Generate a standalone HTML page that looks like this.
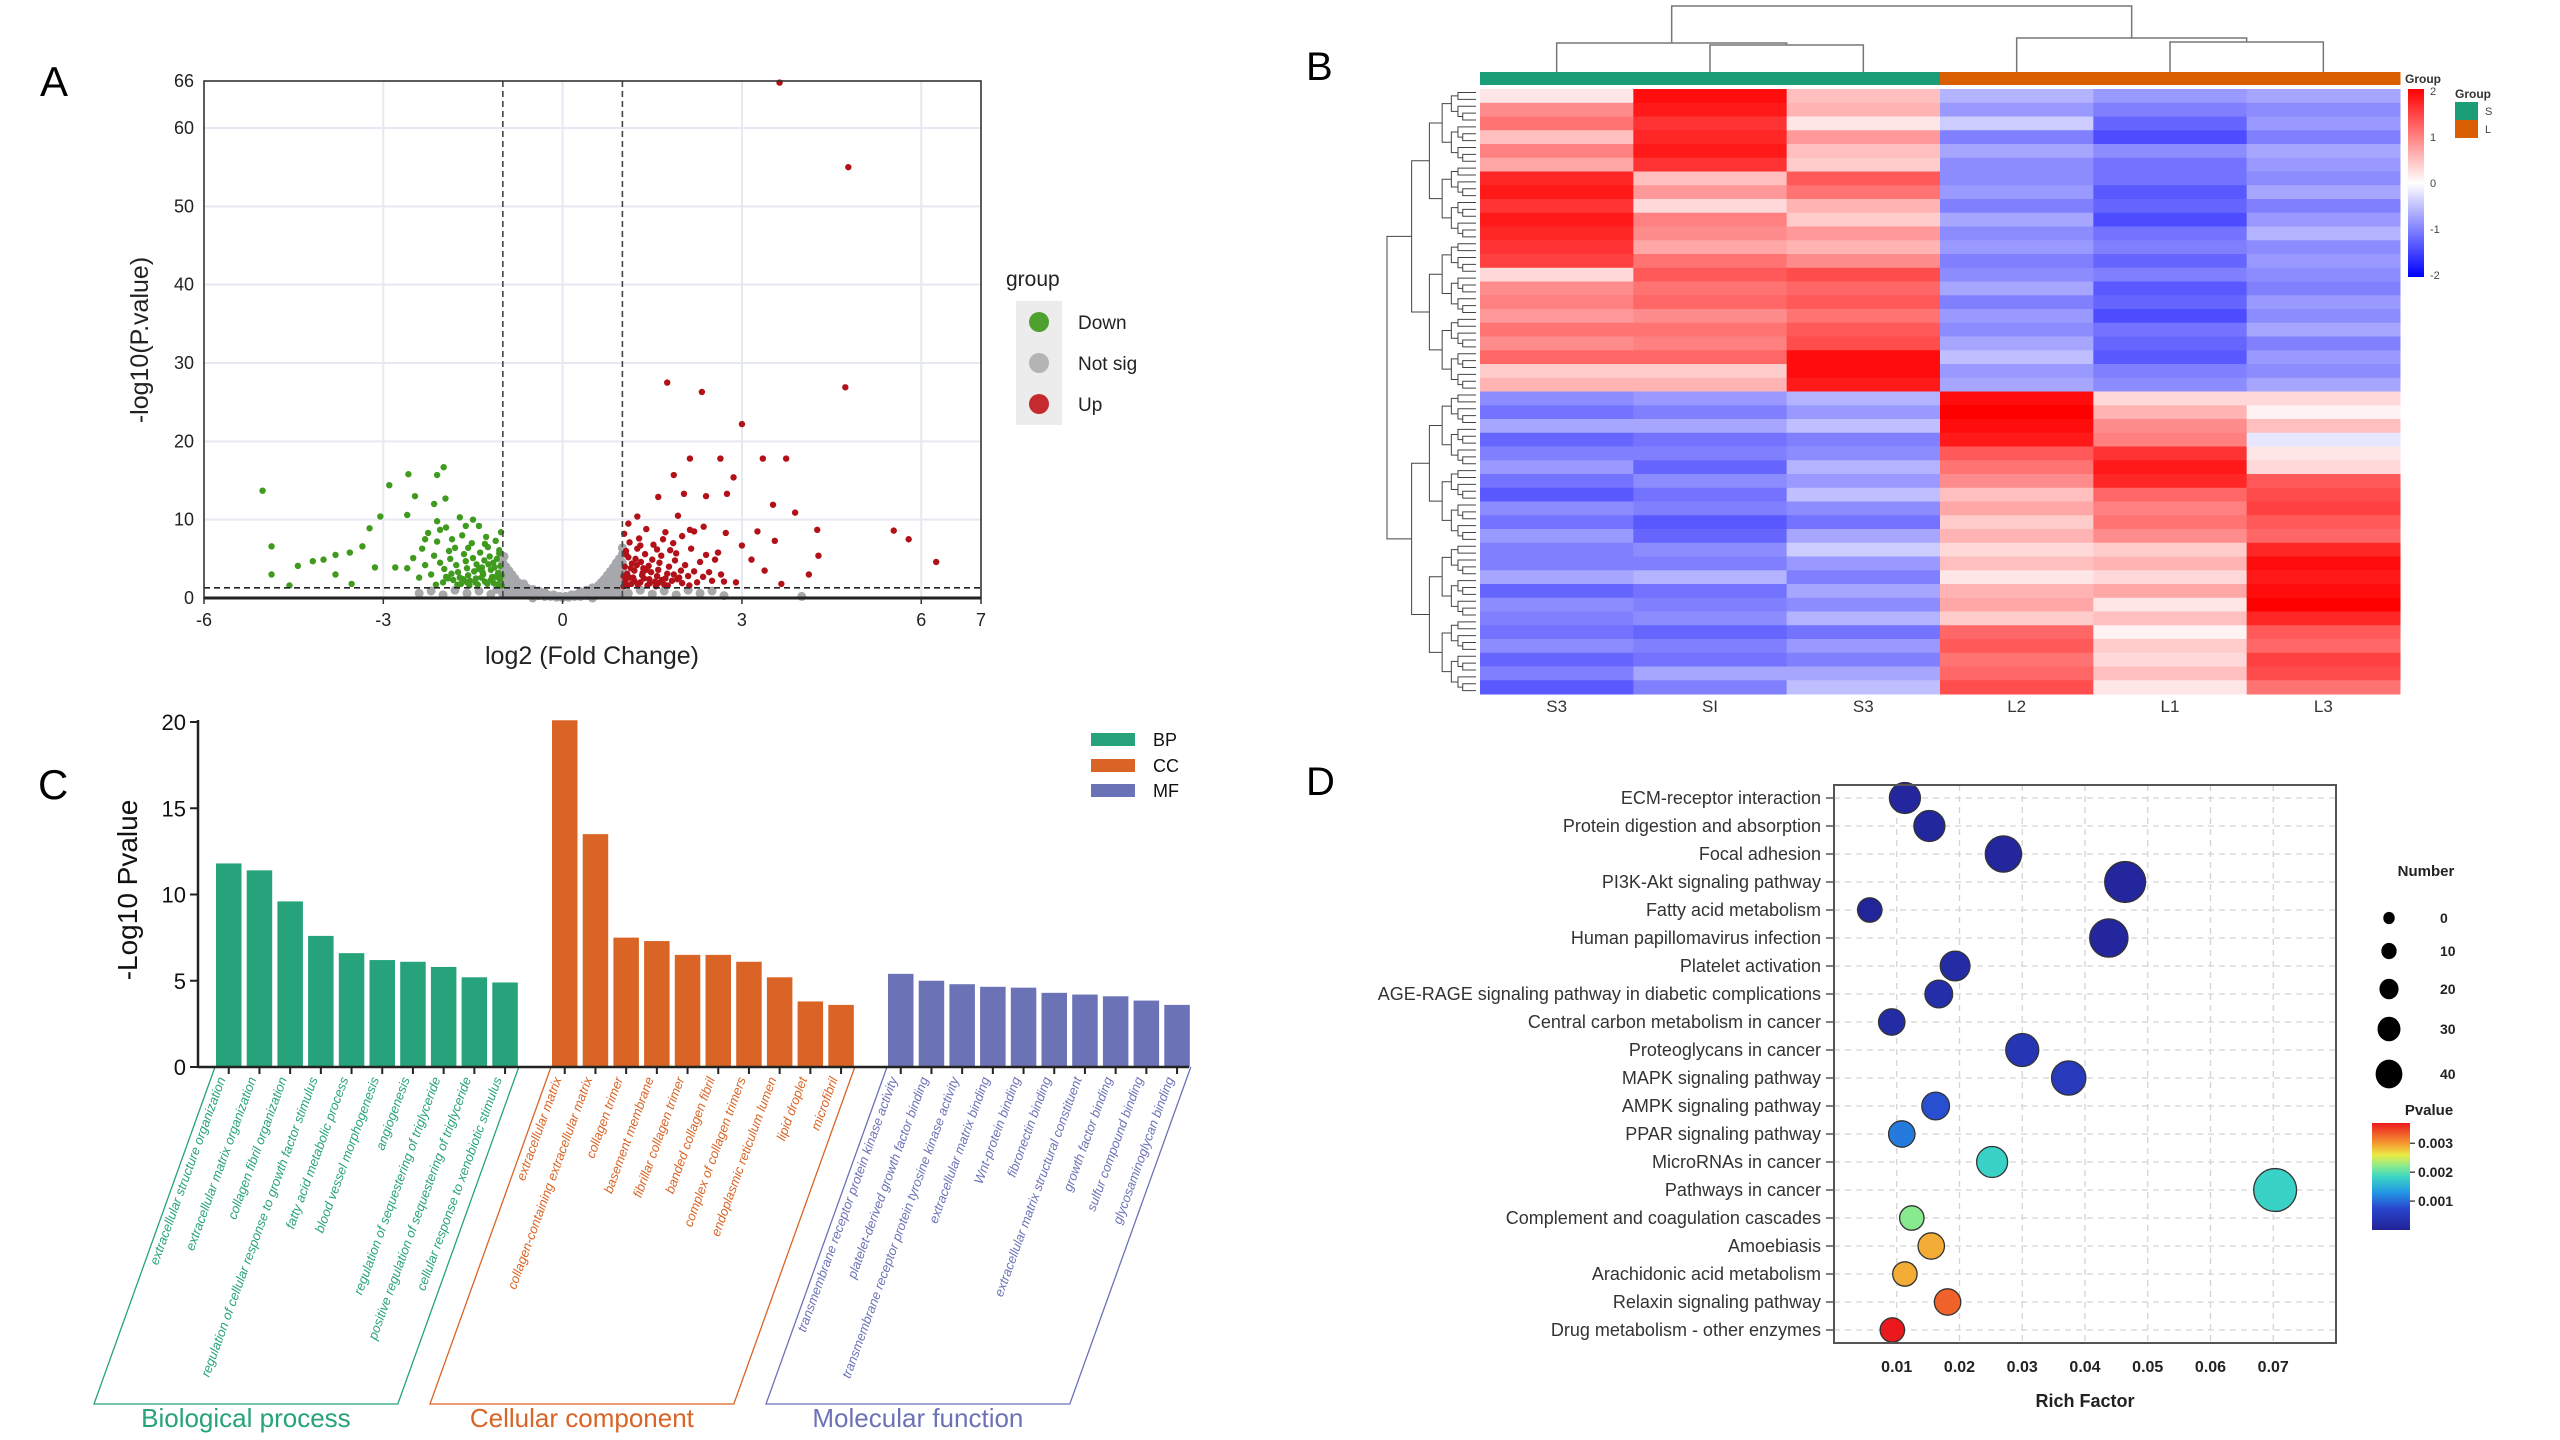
<!DOCTYPE html>
<html><head><meta charset="utf-8"><style>
html,body{margin:0;padding:0;background:#fff}
svg{display:block;font-family:"Liberation Sans",sans-serif}
</style></head><body>
<svg id="fig" width="2560" height="1440" viewBox="0 0 2560 1440" xmlns="http://www.w3.org/2000/svg">
<g id="pa"></g>
<g id="pb"></g>
<g id="pc"></g>
<g id="pd"></g>
</svg>
<script>
// ---------- Panel A data ----------
const volXTicks=[-6,-3,0,3,6,7];
const volYTicks=[0,10,20,30,40,50,60,66];
const upPts=[3.63,65.8,4.78,55,4.73,26.9,1.75,27.5,2.33,26.3,3.0,22.2,2.13,17.8,2.64,17.8,3.35,17.8,3.74,17.8,1.86,15.7,2.86,15.4,1.6,12.9,2.03,13.3,2.4,13,2.75,13.3,3.52,11.9,3.89,10.9,1.93,10.5,1.25,10.4,4.26,8.7,5.54,8.6,5.79,7.5,6.25,4.6,4.28,5.4,4.12,3,3.66,1.8,2.36,9.1,2.73,8.3,3.55,7.3,3.26,8.5,3.16,4.9,3.38,3.5,3.0,6.7,2.9,2,2.13,8.7,
1.02,1.5,1.05,2.2,1.08,3.1,1.04,4.0,1.1,5.2,1.06,6.0,1.12,7.1,1.03,8.2,1.15,1.8,1.18,2.6,1.2,3.5,1.16,4.4,1.22,5.0,1.25,6.3,1.28,7.6,1.3,2.0,1.33,2.9,1.35,3.8,1.31,4.6,1.38,5.6,1.4,8.8,1.42,1.6,1.45,2.4,1.48,3.3,1.44,4.1,1.5,4.9,1.52,6.8,1.55,2.1,1.58,2.8,1.6,3.6,1.62,4.5,1.65,5.4,1.68,7.5,1.7,1.7,1.72,2.5,1.75,3.1,1.78,4.0,1.8,6.1,1.83,2.2,1.86,3.0,1.88,4.8,1.9,5.7,1.95,2.6,1.98,3.5,2.0,1.9,2.05,4.2,2.1,2.8,2.15,6.3,2.2,3.4,2.25,2.0,2.3,4.6,2.35,2.7,2.4,5.5,2.45,3.3,2.5,2.2,2.55,4.9,2.6,5.8,2.65,3.0,2.7,2.1,1.12,2.6,1.26,1.7,1.36,2.5,1.46,1.9,1.56,1.5,1.66,2.3,1.76,1.6,1.06,5.6,1.14,3.8,1.24,4.2,1.34,3.2,1.02,2.8,1.08,1.6,1.2,2.2,1.4,3.6,1.6,1.9,1.92,2.4,2.12,1.6,1.85,7.0,1.58,6.2,1.3,6.7,1.1,9.5,1.72,8.4,2.0,7.9,2.2,8.5];
const downPts=[-5.02,13.7,-4.87,6.6,-4.87,3,-4.57,1.6,-4.43,4.1,-4.18,4.7,-4.0,4.9,-3.8,3,-3.8,5.5,-3.56,5.8,-3.35,6.6,-3.23,8.9,-3.05,10.4,-2.9,14.4,-2.58,15.8,-2.1,15.7,-1.99,16.7,-2.47,13,-2.6,10.6,-2.15,12,-1.96,12.7,-3.14,3.9,-2.8,3.9,-3.53,1.8,
-1.02,1.6,-1.05,2.4,-1.08,3.2,-1.04,4.1,-1.1,5.0,-1.06,6.1,-1.12,7.3,-1.03,8.4,-1.15,1.9,-1.18,2.7,-1.2,3.6,-1.16,4.5,-1.22,5.3,-1.25,6.5,-1.28,7.8,-1.3,2.1,-1.33,3.0,-1.35,3.9,-1.31,4.8,-1.38,5.8,-1.4,9.2,-1.42,1.7,-1.45,2.5,-1.48,3.4,-1.44,4.3,-1.5,5.1,-1.52,7.0,-1.55,2.2,-1.58,2.9,-1.6,3.8,-1.62,4.7,-1.65,5.6,-1.68,8.0,-1.7,1.8,-1.72,2.6,-1.75,3.3,-1.78,4.2,-1.8,6.4,-1.83,2.3,-1.86,3.1,-1.88,5.0,-1.9,6.0,-1.95,2.7,-1.98,3.7,-2.0,2.0,-2.05,4.5,-2.1,7.2,-2.15,5.4,-2.2,3.0,-2.25,8.3,-2.3,4.2,-2.35,6.3,-2.4,2.6,-2.5,5.1,-2.6,3.8,-1.12,2.7,-1.26,1.8,-1.36,2.6,-1.46,2.0,-1.56,1.6,-1.66,2.4,-1.76,1.7,-1.06,5.7,-1.14,3.9,-1.24,4.3,-1.34,3.3,-1.02,2.9,-1.08,1.7,-1.2,2.3,-1.4,3.7,-1.6,2.0,-1.92,2.5,-2.12,1.7,-1.85,7.5,-1.58,6.4,-1.3,6.9,-1.95,9.0,-1.72,10.3,-2.05,8.7,-1.5,10.0,-2.3,7.5,-2.1,9.8,-1.62,9.2];
const nsPts=[-1.0,0.5,-1.0,1.5,-1.0,2.5,-1.0,3.5,-1.0,4.5,-0.98,5.3,-0.95,1.0,-0.95,2.0,-0.95,3.0,-0.95,4.0,-0.9,0.5,-0.9,1.5,-0.9,2.5,-0.9,3.5,-0.85,1.0,-0.85,2.0,-0.85,3.0,-0.8,0.5,-0.8,1.5,-0.8,2.5,-0.75,1.0,-0.75,2.0,-0.7,0.4,-0.7,1.4,-0.65,0.9,-0.65,1.8,-0.6,0.4,-0.6,1.3,-0.55,0.8,-0.5,0.3,-0.5,1.1,-0.45,0.7,-0.4,0.3,-0.4,0.9,-0.35,0.5,-0.3,0.2,-0.3,0.7,-0.25,0.4,-0.2,0.2,-0.15,0.4,-0.1,0.1,-0.05,0.2,0,0.05,0.05,0.2,0.1,0.1,0.15,0.4,0.2,0.2,0.25,0.5,0.3,0.2,0.3,0.8,0.35,0.5,0.4,0.3,0.4,1.0,0.45,0.7,0.5,0.3,0.5,1.3,0.55,0.9,0.6,0.4,0.6,1.6,0.65,1.0,0.65,2.0,0.7,0.5,0.7,1.5,0.7,2.4,0.75,1.0,0.75,2.0,0.75,2.9,0.8,0.5,0.8,1.5,0.8,2.5,0.8,3.4,0.85,1.0,0.85,2.0,0.85,3.0,0.85,3.9,0.9,0.5,0.9,1.5,0.9,2.5,0.9,3.5,0.9,4.5,0.95,1.0,0.95,2.0,0.95,3.0,0.95,4.0,0.95,5.0,1.0,0.5,1.0,1.5,1.0,2.5,1.0,3.5,1.0,4.5,1.0,5.6,1.0,6.4,
-2.4,0.6,-2.2,0.9,-2.0,0.4,-1.8,1.0,-1.6,0.6,-1.4,0.9,-1.2,0.5,-1.1,1.1,1.1,0.6,1.3,1.0,1.5,0.5,1.7,0.9,1.9,0.4,2.1,1.0,2.3,0.6,2.5,0.9,2.7,0.3,4.0,0.2,-0.5,0.0,0.5,0.0];
const fcCut=[-1,1];
const pCut=1.3;

// ---------- Panel B data ----------
const hmSamples=["S3","SI","S3","L2","L1","L3"];
const hmGroups=["S","S","S","L","L","L"];
const hmS3a=[0.2,0.9,1.1,0.5,1.0,0.7,1.7,1.8,1.6,1.8,1.7,1.6,1.5,0.3,0.9,1.0,0.8,1.1,0.9,1.2,0.4,0.6,-0.9,-1.1,-0.7,-1.2,-1.0,-0.8,-1.1,-1.3,-0.9,-1.1,-0.8,-1.0,-1.0,-0.7,-1.2,-0.9,-1.0,-1.1,-0.9,-1.2,-1.0,-1.3];
const hmS1=[1.9,1.8,1.6,1.7,1.8,1.6,0.5,0.8,0.3,1.0,0.9,0.7,1.1,1.3,1.1,1.2,0.9,1.1,1.0,1.2,0.4,0.6,-0.8,-1.0,-0.7,-1.1,-1.0,-1.2,-0.9,-1.1,-1.0,-1.3,-1.2,-0.9,-1.0,-0.6,-1.1,-1.0,-0.9,-1.2,-1.0,-1.1,-0.7,-1.0];
const hmS3b=[0.5,0.6,0.2,0.8,0.5,0.4,1.3,1.1,0.6,0.4,0.8,0.6,0.9,1.4,1.2,1.3,1.1,1.3,1.4,1.9,1.9,1.8,-0.6,-0.8,-0.5,-1.0,-0.9,-0.6,-0.8,-0.5,-0.9,-1.1,-0.7,-0.4,-0.8,-1.0,-0.7,-0.9,-0.6,-1.1,-0.8,-1.0,-0.7,-0.5];
const hmL2=[-0.6,-0.8,-0.4,-1.0,-0.7,-0.9,-0.9,-0.8,-1.0,-0.7,-0.9,-0.8,-1.0,-0.9,-0.7,-1.0,-0.8,-0.9,-0.7,-0.5,-0.8,-0.7,1.9,2.0,1.9,1.8,1.3,1.1,0.9,0.5,0.7,0.4,0.6,0.3,0.5,0.2,0.6,0.7,0.4,1.2,1.3,1.1,1.2,1.4];
const hmL1=[-0.8,-1.0,-1.2,-1.4,-0.9,-1.1,-1.1,-1.3,-1.2,-1.4,-1.1,-1.0,-1.2,-1.0,-1.3,-1.2,-1.4,-1.1,-1.2,-1.3,-1.0,-0.9,0.3,0.6,0.9,1.0,1.6,1.8,1.7,1.2,1.0,1.1,0.9,0.4,0.6,0.3,0.7,0.2,0.5,0.1,0.4,0.3,0.5,0.2];
const hmL3=[-0.7,-0.9,-0.8,-1.0,-0.7,-0.8,-0.9,-0.7,-1.0,-0.8,-0.6,-0.9,-0.8,-0.9,-1.0,-0.8,-0.9,-0.7,-1.0,-0.8,-0.9,-0.7,0.3,0.1,0.5,-0.2,0.2,0.3,1.3,1.4,1.5,1.3,1.2,1.7,1.9,1.8,1.9,2.0,1.7,1.3,1.2,1.5,1.4,1.1];
const hmScaleTicks=[2,1,0,-1,-2];

// ---------- Panel C data ----------
const bpTerms=["extracellular structure organization","extracellular matrix organization","collagen fibril organization","regulation of cellular response to growth factor stimulus","fatty acid metabolic process","blood vessel morphogenesis","angiogenesis","regulation of sequestering of triglyceride","positive regulation of sequestering of triglyceride","cellular response to xenobiotic stimulus"];
const bpValues=[11.8,11.4,9.6,7.6,6.6,6.2,6.1,5.8,5.2,4.9];
const ccTerms=["extracellular matrix","collagen-containing extracellular matrix","collagen trimer","basement membrane","fibrillar collagen trimer","banded collagen fibril","complex of collagen trimers","endoplasmic reticulum lumen","lipid droplet","microfibril"];
const ccValues=[20.1,13.5,7.5,7.3,6.5,6.5,6.1,5.2,3.8,3.6];
const mfTerms=["transmembrane receptor protein kinase activity","platelet-derived growth factor binding","transmembrane receptor protein tyrosine kinase activity","extracellular matrix binding","Wnt-protein binding","fibronectin binding","extracellular matrix structural constituent","growth factor binding","sulfur compound binding","glycosaminoglycan binding"];
const mfValues=[5.4,5.0,4.8,4.65,4.6,4.3,4.2,4.1,3.85,3.6];
const goYTicks=[0,5,10,15,20];

// ---------- Panel D data ----------
const pathways=["ECM-receptor interaction","Protein digestion and absorption","Focal adhesion","PI3K-Akt signaling pathway","Fatty acid metabolism","Human papillomavirus infection","Platelet activation","AGE-RAGE signaling pathway in diabetic complications","Central carbon metabolism in cancer","Proteoglycans in cancer","MAPK signaling pathway","AMPK signaling pathway","PPAR signaling pathway","MicroRNAs in cancer","Pathways in cancer","Complement and coagulation cascades","Amoebiasis","Arachidonic acid metabolism","Relaxin signaling pathway","Drug metabolism - other enzymes"];
const richFactor=[0.0113,0.0152,0.027,0.0464,0.0057,0.0438,0.0193,0.0167,0.0092,0.030,0.0374,0.0162,0.0108,0.0252,0.0703,0.0124,0.0155,0.0113,0.0181,0.0093];
const geneNumber=[17,17,25,32,7,28,15,12,10,20,22,12,10,17,35,7,10,7,10,7];
const pValue=[0.00008,0.0001,0.00008,0.00008,0.00005,0.00008,0.0002,0.00025,0.0002,0.0004,0.0005,0.0008,0.0011,0.0018,0.0018,0.0022,0.0029,0.0029,0.0033,0.0037];
const richTicks=[0.01,0.02,0.03,0.04,0.05,0.06,0.07];
const numberLegend=[0,10,20,30,40];
const pTicks=[0.003,0.002,0.001];

const NS="http://www.w3.org/2000/svg";
function mk(parent,tag,attrs,text){const e=document.createElementNS(NS,tag);for(const k in attrs)e.setAttribute(k,attrs[k]);if(text!==undefined)e.textContent=text;parent.appendChild(e);return e;}

// ===== Panel A =====
(function(){
const g=document.getElementById('pa');
const L=204,R=981,T=81,B=598;
const X=v=>L+(v+6)/13*(R-L), Y=v=>B-v/66*(B-T);
let e;
e=mk(g,'text',{x:40,y:96,'font-size':42,fill:'#000'},'A');


[-3,0,3,6].forEach(v=>{mk(g,'line',{x1:X(v),x2:X(v),y1:T,y2:B,stroke:'#e6e9f2','stroke-width':2});});
[10,20,30,40,50,60].forEach(v=>{mk(g,'line',{x1:L,x2:R,y1:Y(v),y2:Y(v),stroke:'#e6e9f2','stroke-width':2});});
function pts(arr,col,r,name){for(let i=0;i<arr.length;i+=2){e=mk(g,'circle',{cx:X(arr[i]),cy:Y(arr[i+1]),r:r,fill:col});

}}
pts(nsPts,'#a7a8ab',4.5,'point-not-sig');
pts(downPts,'#3f9a1e',3.2,'point-down');
pts(upPts,'#b3111a',3.2,'point-up');
fcCut.forEach(v=>{e=mk(g,'line',{x1:X(v),x2:X(v),y1:T,y2:B,stroke:'#444','stroke-width':1.6,'stroke-dasharray':'6,4'});

});
e=mk(g,'line',{x1:L,x2:R,y1:Y(pCut),y2:Y(pCut),stroke:'#222','stroke-width':1.6,'stroke-dasharray':'6,4'});


mk(g,'rect',{x:L,y:T,width:R-L,height:B-T,fill:'none',stroke:'#333','stroke-width':1.6});
mk(g,'line',{x1:L,x2:R,y1:B,y2:B,stroke:'#222','stroke-width':3});
volXTicks.forEach(v=>{mk(g,'line',{x1:X(v),x2:X(v),y1:B,y2:B+6,stroke:'#333','stroke-width':1.5});
e=mk(g,'text',{x:X(v),y:B+28,'font-size':18,'text-anchor':'middle',fill:'#222'},String(v));

});
volYTicks.forEach(v=>{e=mk(g,'text',{x:L-10,y:Y(v)+6,'font-size':18,'text-anchor':'end',fill:'#222'},String(v));

});
e=mk(g,'text',{x:592,y:664,'font-size':25,'text-anchor':'middle',fill:'#222'},'log2 (Fold Change)');


e=mk(g,'text',{x:0,y:0,'font-size':25,'text-anchor':'middle',fill:'#222',transform:'translate(148,340) rotate(-90)'},'-log10(P.value)');


e=mk(g,'text',{x:1006,y:286,'font-size':21,fill:'#222'},'group');


mk(g,'rect',{x:1016,y:301,width:46,height:124,fill:'#ececec'});
[['Down','#4ea12e',322],['Not sig','#b4b4b6',363],['Up','#c42a2e',404]].forEach(d=>{
e=mk(g,'circle',{cx:1039,cy:d[2],r:10,fill:d[1]});


e=mk(g,'text',{x:1078,y:d[2]+7,'font-size':19,fill:'#222'},d[0]);

});
})();

// ===== Panel B =====
(function(){
const g=document.getElementById('pb');
const L=1480,R=2400,T=89,B=694;
const cols=[hmS3a,hmS1,hmS3b,hmL2,hmL1,hmL3];
const cw=(R-L)/cols.length, nr=hmS3a.length, rh=(B-T)/nr;
function col(v){v=Math.max(-2,Math.min(2,v));let r,gg,b;if(v>=0){const t=v/2;r=255;gg=Math.round(255*(1-t));b=gg;}else{const t=-v/2;b=255;r=Math.round(255*(1-t));gg=r;}return `rgb(${r},${gg},${b})`;}
let e;
e=mk(g,'text',{x:1306,y:80,'font-size':40,fill:'#000'},'B');


cols.forEach((c,j)=>{c.forEach((v,i)=>{e=mk(g,'rect',{x:L+j*cw,y:T+i*rh,width:cw+0.5,height:rh+0.5,fill:col(v)});

});
e=mk(g,'rect',{x:L+j*cw,y:72,width:cw+0.5,height:13,fill:hmGroups[j]==='S'?'#1b9e77':'#d95f02'});


e=mk(g,'text',{x:L+(j+0.5)*cw,y:712,'font-size':17,'text-anchor':'middle',fill:'#333'},hmSamples[j]);

});
const cx=j=>L+(j+0.5)*cw;
const st={stroke:'#777','stroke-width':1.5,fill:'none'};
const d1=(cx(1)+cx(2))/2, d2=(cx(4)+cx(5))/2, dl=(cx(0)+d1)/2, dr=(cx(3)+d2)/2;
e=mk(g,'path',Object.assign({d:`M${cx(1)},72V45H${cx(2)}V72 M${cx(0)},72V43H${d1}V45 M${cx(4)},72V42H${cx(5)}V72 M${cx(3)},72V38H${d2}V42 M${dl},43V6H${dr}V38`},st));


const leaves=88, lh=(B-T)/leaves;
let path='';
function node(lo,hi,depth){const yc=T+((lo+hi)/2)*lh;const x=1387+(1475-1387)*(1-Math.pow(0.72,depth));
if(hi-lo<=1){return {y:yc,x:1476};}
const mid=Math.floor((lo+hi)/2);const a=node(lo,mid,depth+1),b=node(mid,hi,depth+1);
path+=`M${a.x},${a.y}H${x}V${b.y}H${b.x}`;return {y:(a.y+b.y)/2,x:x};}
node(0,leaves,0);
e=mk(g,'path',{d:path,stroke:'#444','stroke-width':1,fill:'none'});


const defs=mk(g,'defs',{});const lg=mk(defs,'linearGradient',{id:'hmg',x1:0,y1:0,x2:0,y2:1});
mk(lg,'stop',{offset:'0','stop-color':'#ff0000'});mk(lg,'stop',{offset:'0.5','stop-color':'#ffffff'});mk(lg,'stop',{offset:'1','stop-color':'#0000ff'});
e=mk(g,'rect',{x:2408,y:89,width:16,height:188,fill:'url(#hmg)'});


hmScaleTicks.forEach(v=>{e=mk(g,'text',{x:2430,y:183-v*46+4,'font-size':11,fill:'#444'},String(v));

});
e=mk(g,'text',{x:2405,y:83,'font-size':12,'font-weight':'bold',fill:'#333'},'Group');


e=mk(g,'text',{x:2455,y:98,'font-size':12,'font-weight':'bold',fill:'#333'},'Group');


[['S','#1b9e77',102],['L','#d95f02',120]].forEach(d=>{e=mk(g,'rect',{x:2455,y:d[2],width:23,height:18,fill:d[1]});


e=mk(g,'text',{x:2485,y:d[2]+13,'font-size':11,fill:'#444'},d[0]);

});
})();

// ===== Panel C =====
(function(){
const g=document.getElementById('pc');
const AX=198,Y0=1067,Y20=722,pitch=30.7,bw=25.5;
const Y=v=>Y0-v/20*(Y0-Y20);
let e;
e=mk(g,'text',{x:38,y:799,'font-size':42,fill:'#000'},'C');


const groups=[[bpTerms,bpValues,216,'#26a37b','Biological process'],[ccTerms,ccValues,552,'#d96425','Cellular component'],[mfTerms,mfValues,888,'#6c72b6','Molecular function']];
groups.forEach((gr,gi)=>{
const [terms,vals,x0,c,title]=gr;
vals.forEach((v,i)=>{const x=x0+i*pitch;
e=mk(g,'rect',{x:x,y:Y(v),width:bw,height:Y0-Y(v),fill:c});


mk(g,'line',{x1:x+bw/2,x2:x+bw/2,y1:Y0,y2:Y0+7,stroke:'#222','stroke-width':2});
e=mk(g,'text',{x:0,y:0,'font-size':13,'font-style':'italic','text-anchor':'end',fill:c,transform:`translate(${x+bw/2-3},${Y0+12}) rotate(-70)`},terms[i]);

});
const xl=x0-1, xr=x0+(vals.length-1)*pitch+bw+1;
e=mk(g,'path',{d:`M${xl},${Y0}L${xl-121},1404H${xr-121}L${xr},${Y0}`,fill:'none',stroke:c,'stroke-width':1.3});


e=mk(g,'text',{x:(xl+xr)/2-121,y:1427,'font-size':26,'text-anchor':'middle',fill:c},title);

});
mk(g,'line',{x1:AX,x2:1189,y1:Y0,y2:Y0,stroke:'#222','stroke-width':2.5});
mk(g,'line',{x1:AX,x2:AX,y1:Y20-2,y2:Y0,stroke:'#222','stroke-width':2.5});
goYTicks.forEach(v=>{mk(g,'line',{x1:AX-8,x2:AX,y1:Y(v),y2:Y(v),stroke:'#222','stroke-width':2});
e=mk(g,'text',{x:AX-12,y:Y(v)+8,'font-size':22,'text-anchor':'end',fill:'#111'},String(v));

});
e=mk(g,'text',{x:0,y:0,'font-size':28,'text-anchor':'middle',fill:'#111',transform:'translate(137,890) rotate(-90)'},'-Log10 Pvalue');


[['BP','#26a37b',739],['CC','#d96425',765],['MF','#6c72b6',790]].forEach(d=>{
e=mk(g,'rect',{x:1091,y:d[2]-6,width:44,height:13,fill:d[1]});


e=mk(g,'text',{x:1153,y:d[2]+7,'font-size':18,fill:'#111'},d[0]);

});
})();

// ===== Panel D =====
(function(){
const g=document.getElementById('pd');
const L=1834,R=2336,T=785,B=1343,row0=798,rowH=28;
const X=v=>L+v/0.08*(R-L), Y=i=>row0+i*rowH;
const rad=n=>9.9+0.33*n;
const cmStops=[[0,[34,34,150]],[0.2,[40,70,205]],[0.35,[35,150,230]],[0.5,[60,215,195]],[0.6,[140,235,140]],[0.7,[235,235,70]],[0.8,[245,160,50]],[1,[235,25,30]]];
function cmap(t){t=Math.max(0,Math.min(1,t));for(let k=1;k<cmStops.length;k++){if(t<=cmStops[k][0]){const a=cmStops[k-1],b=cmStops[k];const f=(t-a[0])/(b[0]-a[0]);const c=a[1].map((v,j)=>Math.round(v+(b[1][j]-v)*f));return `rgb(${c[0]},${c[1]},${c[2]})`;}}return 'rgb(235,25,30)';}
const pmax=0.0037;
let e;
e=mk(g,'text',{x:1306,y:795,'font-size':40,fill:'#000'},'D');


richTicks.forEach(v=>{mk(g,'line',{x1:X(v),x2:X(v),y1:T,y2:B,stroke:'#d4d4d4','stroke-width':1.3,'stroke-dasharray':'6,5'});});
pathways.forEach((p,i)=>{mk(g,'line',{x1:L,x2:R,y1:Y(i),y2:Y(i),stroke:'#d4d4d4','stroke-width':1.3,'stroke-dasharray':'6,5'});
mk(g,'line',{x1:L-8,x2:L,y1:Y(i),y2:Y(i),stroke:'#555','stroke-width':1.5});
e=mk(g,'text',{x:L-13,y:Y(i)+6,'font-size':18,'text-anchor':'end',fill:'#333'},p);

});
pathways.forEach((p,i)=>{e=mk(g,'circle',{cx:X(richFactor[i]),cy:Y(i),r:rad(geneNumber[i]),fill:cmap(pValue[i]/pmax),stroke:'#333','stroke-width':1.3});

});
mk(g,'rect',{x:L,y:T,width:R-L,height:B-T,fill:'none',stroke:'#555','stroke-width':2});
richTicks.forEach(v=>{e=mk(g,'text',{x:X(v),y:1372,'font-size':16,'font-weight':'bold','text-anchor':'middle',fill:'#222'},v.toFixed(2));

});
e=mk(g,'text',{x:2085,y:1407,'font-size':18,'font-weight':'bold','text-anchor':'middle',fill:'#222'},'Rich Factor');


e=mk(g,'text',{x:2426,y:876,'font-size':15,'font-weight':'bold','text-anchor':'middle',fill:'#222'},'Number');


const ly=[918,951,989,1029,1074];
numberLegend.forEach((n,i)=>{e=mk(g,'ellipse',{cx:2389,cy:ly[i],rx:rad(n)*0.58,ry:rad(n)*0.62,fill:'#000'});


e=mk(g,'text',{x:2440,y:ly[i]+5,'font-size':14,'font-weight':'bold',fill:'#222'},String(n));

});
e=mk(g,'text',{x:2429,y:1115,'font-size':15,'font-weight':'bold','text-anchor':'middle',fill:'#222'},'Pvalue');


const defs=mk(g,'defs',{});const lg=mk(defs,'linearGradient',{id:'jetg',x1:0,y1:1,x2:0,y2:0});
for(let k=0;k<=20;k++)mk(lg,'stop',{offset:k/20,'stop-color':cmap(k/20)});
e=mk(g,'rect',{x:2372,y:1123,width:38,height:107,fill:'url(#jetg)'});


pTicks.forEach(v=>{const y=1230-v/pmax*107;mk(g,'line',{x1:2410,x2:2415,y1:y,y2:y,stroke:'#333','stroke-width':1.3});
e=mk(g,'text',{x:2418,y:y+5,'font-size':14,'font-weight':'bold',fill:'#222'},v.toFixed(3));

});
})();
</script>
</body></html>
